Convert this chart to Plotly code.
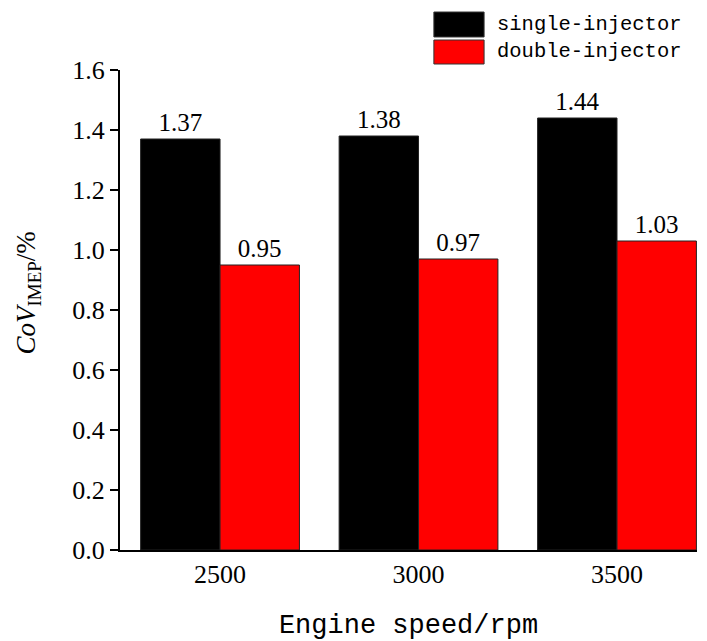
import plotly.graph_objects as go

speeds = ["2500", "3000", "3500"]
series_names = ["single-injector", "double-injector"]
single_vals = [1.37, 1.38, 1.44]
double_vals = [0.95, 0.97, 1.03]
colors = ["#000000", "#ff0000"]
y_ticks = [0.0, 0.2, 0.4, 0.6, 0.8, 1.0, 1.2, 1.4, 1.6]

SERIF = "Liberation Serif, DejaVu Serif, serif"
MONO = "Liberation Mono, DejaVu Sans Mono, monospace"

fig = go.Figure()
for name, vals, col in zip(series_names, [single_vals, double_vals], colors):
    fig.add_trace(go.Bar(
        x=speeds, y=vals, name=name,
        marker=dict(color=col, line=dict(color="#222222", width=1)),
        text=[f"{v:.2f}" for v in vals], textposition="outside",
        textfont=dict(family=SERIF, size=25, color="black"),
        cliponaxis=False, showlegend=False,
    ))

# custom legend with large swatches (paper coords)
sw_top = [1.1208, 1.0625]
sw_bot = [1.0688, 1.0125]
for i, (name, col) in enumerate(zip(series_names, colors)):
    fig.add_shape(type="rect", xref="paper", yref="paper",
                  x0=0.544, x1=0.631, y0=sw_bot[i], y1=sw_top[i],
                  fillcolor=col, line=dict(color="#333333", width=1))
    fig.add_annotation(text=name, xref="paper", yref="paper",
                       x=0.650, y=(sw_top[i] + sw_bot[i]) / 2, xanchor="left", yanchor="middle",
                       showarrow=False, font=dict(family=MONO, size=20.5, color="black"))

# y-axis title as annotation (positioned like the reference)
fig.add_annotation(text="<i>CoV</i><sub>IMEP</sub>/%", xref="paper", yref="paper",
                   x=-0.159, y=0.535, textangle=-90, xanchor="center", yanchor="middle",
                   showarrow=False, font=dict(family=SERIF, size=27, color="black"))

fig.update_layout(
    width=707, height=641,
    margin=dict(l=120, r=10, t=70, b=91),
    paper_bgcolor="white", plot_bgcolor="white",
    barmode="group", bargap=0.2, bargroupgap=0,
    font=dict(family=SERIF, color="black"),
)
fig.update_xaxes(
    type="category", range=[-0.504, 2.403], automargin=False,
    showline=True, linecolor="black", linewidth=2,
    ticks="", tickfont=dict(family=SERIF, size=26),
    title=dict(text="Engine speed/rpm", font=dict(family=MONO, size=27), standoff=28),
    showgrid=False, zeroline=False,
)
fig.update_yaxes(
    range=[0, 1.6], tickvals=y_ticks, ticktext=[f"{v:.1f}" for v in y_ticks],
    automargin=False,
    showline=True, linecolor="black", linewidth=2,
    ticks="outside", ticklen=8, tickwidth=1.5, tickcolor="black",
    tickfont=dict(family=SERIF, size=26),
    showgrid=False, zeroline=False,
)

fig.write_html("out.html")
